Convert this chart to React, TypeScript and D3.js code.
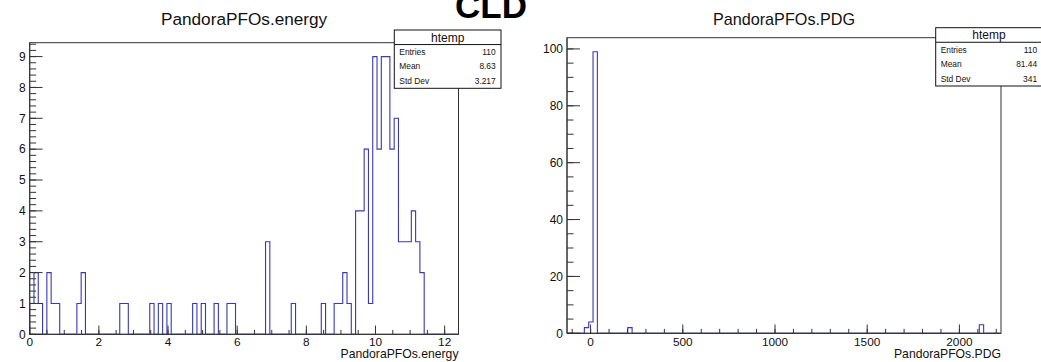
import React from "react";
import * as d3 from "d3";

// ---------- DATA ----------
// PandoraPFOs.energy : 100 bins over [0, 12.4]
const energyRange = [0, 12.4];
const energyCounts = [
  1, 2, 1, 0, 2, 1, 1, 0, 0, 0,
  0, 1, 2, 0, 0, 0, 0, 0, 0, 0,
  0, 1, 1, 0, 0, 0, 0, 0, 1, 0,
  1, 0, 1, 0, 0, 0, 0, 0, 1, 0,
  1, 0, 0, 1, 0, 0, 1, 1, 0, 0,
  0, 0, 0, 0, 0, 3, 0, 0, 0, 0,
  0, 1, 0, 0, 0, 0, 0, 0, 1, 0,
  0, 1, 1, 2, 1, 0, 4, 4, 6, 1,
  9, 6, 9, 9, 6, 7, 3, 3, 3, 4,
  3, 2, 0, 0, 0, 0, 0, 0, 0, 0,
];
const energyXTicks = [0, 2, 4, 6, 8, 10, 12];
const energyYTicks = [0, 1, 2, 3, 4, 5, 6, 7, 8, 9];
const energyStats = [
  ["Entries", "110"],
  ["Mean", "8.63"],
  ["Std Dev", "3.217"],
];

// PandoraPFOs.PDG : 100 bins over [-128, 2225.6]
const pdgRange = [-128, 2225.6];
const pdgValues = [-13, 11, 22, 211, 2112];
const pdgCounts = [2, 4, 99, 2, 3];
const pdgXTicks = [0, 500, 1000, 1500, 2000];
const pdgYTicks = [0, 20, 40, 60, 80, 100];
const pdgStats = [
  ["Entries", "110"],
  ["Mean", "81.44"],
  ["Std Dev", "341"],
];

const NBINS = 100;
const FONT = "'Liberation Sans', Arial, Helvetica, sans-serif";
const HIST = "#3838b8";
const AX = "#333";

function binPdg(): number[] {
  const c = new Array(NBINS).fill(0);
  const bw = (pdgRange[1] - pdgRange[0]) / NBINS;
  pdgValues.forEach((v, i) => {
    const b = Math.floor((v - pdgRange[0]) / bw);
    if (b >= 0 && b < NBINS) c[b] += pdgCounts[i];
  });
  return c;
}

type PanelProps = {
  title: string;
  titleSize: number;
  xTitle: string;
  range: number[];
  counts: number[];
  frame: { l: number; r: number; t: number; b: number };
  xTicks: number[];
  yTicks: number[];
  xMinorStep: number;
  yMinorStep: number;
  stats: string[][];
  box: { l: number; r: number; t: number; b: number };
};

function Panel(p: PanelProps) {
  const { frame, box } = p;
  const ymax = d3.max(p.counts)! * 1.05;
  const x = d3.scaleLinear().domain(p.range).range([frame.l, frame.r]);
  const y = d3.scaleLinear().domain([0, ymax]).range([frame.b, frame.t]);
  const bw = (p.range[1] - p.range[0]) / NBINS;

  let path = `M${x(p.range[0])},${y(0)}`;
  p.counts.forEach((c, i) => {
    path += `V${y(c)}H${x(p.range[0] + (i + 1) * bw)}`;
  });
  path += `V${y(0)}`;

  const fw = frame.r - frame.l;
  const fh = frame.b - frame.t;
  const yMaj = 0.03 * fw;
  const xMaj = 0.03 * fh;

  const xMinor: number[] = [];
  for (let k = Math.ceil(p.range[0] / p.xMinorStep); k * p.xMinorStep <= p.range[1]; k++) xMinor.push(k * p.xMinorStep);
  const yMinor: number[] = [];
  for (let k = 0; k * p.yMinorStep <= ymax; k++) yMinor.push(k * p.yMinorStep);

  const cx = (frame.l + frame.r) / 2;
  const rowH = (box.b - box.t) / 4;

  return (
    <g>
      <text x={cx} y={25} textAnchor="middle" fontSize={p.titleSize} fontFamily={FONT} fill="#111">
        {p.title}
      </text>
      {/* frame */}
      <rect x={frame.l} y={frame.t} width={fw} height={fh} fill="none" stroke={AX} strokeWidth={1} />
      <path d={path} fill="none" stroke={HIST} strokeWidth={1.1} />
      {/* y axis ticks */}
      {yMinor.map((v, i) => (
        <line key={"ym" + i} x1={frame.l} x2={frame.l + yMaj / 2} y1={y(v)} y2={y(v)} stroke={AX} />
      ))}
      {p.yTicks.map((v) => (
        <g key={"yt" + v}>
          <line x1={frame.l} x2={frame.l + yMaj} y1={y(v)} y2={y(v)} stroke={AX} />
          <text x={frame.l - 4} y={y(v)} dy="0.36em" textAnchor="end" fontSize={12} fontFamily={FONT} fill="#111">
            {v}
          </text>
        </g>
      ))}
      {/* x axis ticks */}
      {xMinor.map((v, i) => (
        <line key={"xm" + i} x1={x(v)} x2={x(v)} y1={frame.b} y2={frame.b - xMaj / 2} stroke={AX} />
      ))}
      {p.xTicks.map((v) => (
        <g key={"xt" + v}>
          <line x1={x(v)} x2={x(v)} y1={frame.b} y2={frame.b - xMaj} stroke={AX} />
          <text x={x(v)} y={345.8} textAnchor="middle" fontSize={11.8} fontFamily={FONT} fill="#111">
            {v}
          </text>
        </g>
      ))}
      <line x1={frame.l} x2={frame.r} y1={frame.b} y2={frame.b} stroke={AX} />
      <line x1={frame.l} x2={frame.l} y1={frame.t} y2={frame.b} stroke={AX} />
      <text x={frame.r} y={358} textAnchor="end" fontSize={12.2} fontFamily={FONT} fill="#111">
        {p.xTitle}
      </text>
      {/* stats box */}
      <rect x={box.l} y={box.t} width={box.r - box.l} height={box.b - box.t} fill="#fff" stroke="#111" strokeWidth={1} />
      <line x1={box.l} x2={box.r} y1={box.t + rowH} y2={box.t + rowH} stroke="#111" />
      <text x={(box.l + box.r) / 2} y={box.t + rowH / 2} dy="0.36em" textAnchor="middle" fontSize={12} fontFamily={FONT} fill="#111">
        htemp
      </text>
      {p.stats.map((s, i) => (
        <g key={s[0]}>
          <text x={box.l + 5} y={box.t + rowH * (i + 1.5)} dy="0.36em" fontSize={8.4} fontFamily={FONT} fill="#111">
            {s[0]}
          </text>
          <text x={box.r - 5.3} y={box.t + rowH * (i + 1.5)} dy="0.36em" textAnchor="end" fontSize={8.4} fontFamily={FONT} fill="#111">
            {s[1]}
          </text>
        </g>
      ))}
    </g>
  );
}

export default function App() {
  const pdg = binPdg();
  return (
    <svg
      width={1041}
      height={362}
      style={{ position: "fixed", left: 0, top: 0, background: "#fff" }}
    >
      <rect width={1041} height={362} fill="#fff" />
      <Panel
        title="PandoraPFOs.energy"
        titleSize={17.2}
        xTitle="PandoraPFOs.energy"
        range={energyRange}
        counts={energyCounts}
        frame={{ l: 29.7, r: 458.5, t: 42.7, b: 334.3 }}
        xTicks={energyXTicks}
        yTicks={energyYTicks}
        xMinorStep={0.5}
        yMinorStep={0.2}
        stats={energyStats}
        box={{ l: 394.3, r: 501, t: 30, b: 88.3 }}
      />
      <Panel
        title="PandoraPFOs.PDG"
        titleSize={16.2}
        xTitle="PandoraPFOs.PDG"
        range={pdgRange}
        counts={pdg}
        frame={{ l: 567, r: 1001, t: 37.7, b: 333.3 }}
        xTicks={pdgXTicks}
        yTicks={pdgYTicks}
        xMinorStep={100}
        yMinorStep={5}
        stats={pdgStats}
        box={{ l: 935.7, r: 1042.4, t: 27.7, b: 86 }}
      />
      <text x={455} y={18} fontSize={35} fontWeight="bold" fontFamily={FONT} fill="#000">
        CLD
      </text>
    </svg>
  );
}
